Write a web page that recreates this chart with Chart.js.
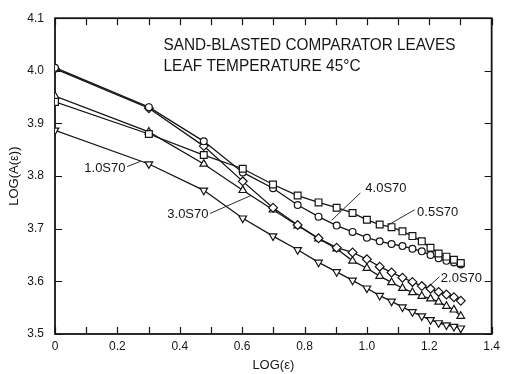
<!DOCTYPE html>
<html>
<head>
<meta charset="utf-8">
<title>Sand-blasted comparator leaves</title>
<script src="https://cdn.jsdelivr.net/npm/chart.js@4/dist/chart.umd.min.js"></script>
<style>
  html, body { margin: 0; padding: 0; background: #fff; }
  #wrap { width: 505px; height: 374px; }
</style>
</head>
<body>
<div id="wrap"><canvas id="myChart" width="505" height="374"></canvas></div>
<script>
// log(strain) for strain = 1 .. 20
const logStrain = [0, 0.301, 0.477, 0.602, 0.699, 0.778, 0.845, 0.903, 0.954, 1.0,
  1.041, 1.079, 1.114, 1.146, 1.176, 1.204, 1.230, 1.255, 1.279, 1.301];

const s05 = [3.941, 3.880, 3.840, 3.814, 3.784, 3.763, 3.750, 3.740, 3.730, 3.717,
  3.708, 3.703, 3.695, 3.686, 3.676, 3.664, 3.653, 3.647, 3.641, 3.635];
const s40 = [4.006, 3.931, 3.866, 3.807, 3.777, 3.745, 3.723, 3.706, 3.694, 3.683,
  3.676, 3.671, 3.667, 3.662, 3.657, 3.650, 3.644, 3.639, 3.636, 3.632];
const s20 = [4.004, 3.929, 3.857, 3.790, 3.740, 3.707, 3.682, 3.664, 3.655, 3.642,
  3.628, 3.617, 3.607, 3.599, 3.591, 3.586, 3.580, 3.575, 3.570, 3.563];
const s30 = [3.952, 3.884, 3.823, 3.773, 3.736, 3.706, 3.681, 3.662, 3.639, 3.625,
  3.610, 3.598, 3.587, 3.579, 3.572, 3.567, 3.561, 3.553, 3.546, 3.534];
const s10 = [3.887, 3.823, 3.773, 3.720, 3.686, 3.660, 3.636, 3.618, 3.602, 3.587,
  3.573, 3.562, 3.551, 3.542, 3.534, 3.527, 3.521, 3.517, 3.514, 3.511];

const xTickLabels = ['0', '0.2', '0.4', '0.6', '0.8', '1.0', '1.2', '1.4'];
const yTickLabels = ['3.5', '3.6', '3.7', '3.8', '3.9', '4.0', '4.1'];

const titleLines = ['SAND-BLASTED COMPARATOR LEAVES', 'LEAF TEMPERATURE 45\u00B0C'];

const INK = '#151515';
const FONT = '"Liberation Sans", Arial, Helvetica, sans-serif';

// curve labels with their leader lines, in data units
const curveNotes = [
  { text: '1.0S70', x: 0.226, y: 3.815, align: 'right', from: [0.231, 3.818], to: [0.274, 3.828] },
  { text: '3.0S70', x: 0.360, y: 3.727, align: 'left', from: [0.497, 3.729], to: [0.628, 3.763] },
  { text: '4.0S70', x: 0.995, y: 3.776, align: 'left', from: [0.979, 3.768], to: [0.887, 3.716] },
  { text: '0.5S70', x: 1.161, y: 3.731, align: 'left', from: [1.153, 3.736], to: [1.068, 3.707] },
  { text: '2.0S70', x: 1.237, y: 3.606, align: 'left', from: [1.233, 3.609], to: [1.196, 3.589] }
];

function makeSeries(label, ys, style, radius, rotation) {
  return {
    label: label,
    data: ys.map((v, i) => ({ x: logStrain[i], y: v })),
    borderColor: INK,
    borderWidth: 1.3,
    pointStyle: style,
    pointRotation: rotation || 0,
    pointRadius: radius,
    pointBackgroundColor: '#fff',
    pointBorderColor: INK,
    pointBorderWidth: 1.2,
    tension: 0,
    fill: false
  };
}

// frame and inward tick marks on all four sides
const framePlugin = {
  id: 'frame',
  beforeDatasetsDraw(chart) {
    const { ctx, chartArea: a, scales } = chart;
    const len = 7;
    ctx.save();
    ctx.strokeStyle = INK;
    ctx.lineWidth = 1.2;
    ctx.beginPath();
    scales.x.ticks.forEach((t, i) => {
      const px = Math.round(scales.x.getPixelForTick(i)) + 0.5;
      ctx.moveTo(px, a.bottom); ctx.lineTo(px, a.bottom - len);
      ctx.moveTo(px, a.top); ctx.lineTo(px, a.top + len);
    });
    scales.y.ticks.forEach((t, i) => {
      const py = Math.round(scales.y.getPixelForTick(i)) + 0.5;
      ctx.moveTo(a.left, py); ctx.lineTo(a.left + len, py);
      ctx.moveTo(a.right, py); ctx.lineTo(a.right - len, py);
    });
    ctx.stroke();
    ctx.lineWidth = 1.8;
    ctx.strokeRect(a.left, a.top, a.right - a.left, a.bottom - a.top);
    ctx.restore();
  },
  afterDatasetsDraw(chart) {
    const { ctx, scales } = chart;
    const X = v => scales.x.getPixelForValue(v);
    const Y = v => scales.y.getPixelForValue(v);
    ctx.save();
    ctx.fillStyle = INK;
    ctx.strokeStyle = INK;

    // heading, two lines
    ctx.font = '16.5px ' + FONT;
    ctx.textAlign = 'left';
    ctx.textBaseline = 'alphabetic';
    ctx.fillText(titleLines[0], X(0.348), Y(4.0398), 292);
    ctx.fillText(titleLines[1], X(0.348), Y(3.9994), 197);

    // curve labels
    ctx.font = '13px ' + FONT;
    ctx.textBaseline = 'middle';
    ctx.lineWidth = 0.9;
    curveNotes.forEach(n => {
      ctx.textAlign = n.align;
      ctx.fillText(n.text, X(n.x), Y(n.y));
      ctx.beginPath();
      ctx.moveTo(X(n.from[0]), Y(n.from[1]));
      ctx.lineTo(X(n.to[0]), Y(n.to[1]));
      ctx.stroke();
    });
    ctx.restore();
  }
};

Chart.defaults.font.family = FONT;
Chart.defaults.color = INK;

const ctx = document.getElementById('myChart').getContext('2d');
new Chart(ctx, {
  type: 'line',
  data: {
    datasets: [
      makeSeries('0.5S70', s05, 'rect', 4.8),
      makeSeries('4.0S70', s40, 'circle', 3.4),
      makeSeries('2.0S70', s20, 'rectRot', 4.4),
      makeSeries('3.0S70', s30, 'triangle', 4.4),
      makeSeries('1.0S70', s10, 'triangle', 4.4, 180)
    ]
  },
  options: {
    responsive: false,
    animation: false,
    layout: { padding: { top: 12, right: 11, left: 0, bottom: 0 } },
    plugins: {
      legend: { display: false },
      tooltip: { enabled: false }
    },
    scales: {
      x: {
        type: 'linear',
        min: 0,
        max: 1.4,
        border: { display: false },
        grid: { display: false, drawTicks: false },
        ticks: {
          stepSize: 0.1,
          padding: 5,
          maxRotation: 0,
          autoSkip: false,
          font: { size: 12 },
          callback: (v, i) => (i % 2 === 0 ? xTickLabels[i / 2] : '')
        },
        title: {
          display: true,
          text: 'LOG(\u03B5)',
          font: { size: 13 },
          padding: { top: 0, bottom: 1 }
        },
        afterFit: (scale) => { scale.height = 40; }
      },
      y: {
        min: 3.5,
        max: 4.1,
        border: { display: false },
        grid: { display: false, drawTicks: false },
        ticks: {
          stepSize: 0.1,
          padding: 11,
          autoSkip: false,
          font: { size: 12 },
          callback: (v, i) => yTickLabels[i]
        },
        title: {
          display: true,
          text: 'LOG(A(\u03B5))',
          font: { size: 13 },
          padding: { top: 7, bottom: 0 }
        },
        afterFit: (scale) => { scale.width = 55; }
      }
    }
  },
  plugins: [framePlugin]
});
</script>
</body>
</html>
